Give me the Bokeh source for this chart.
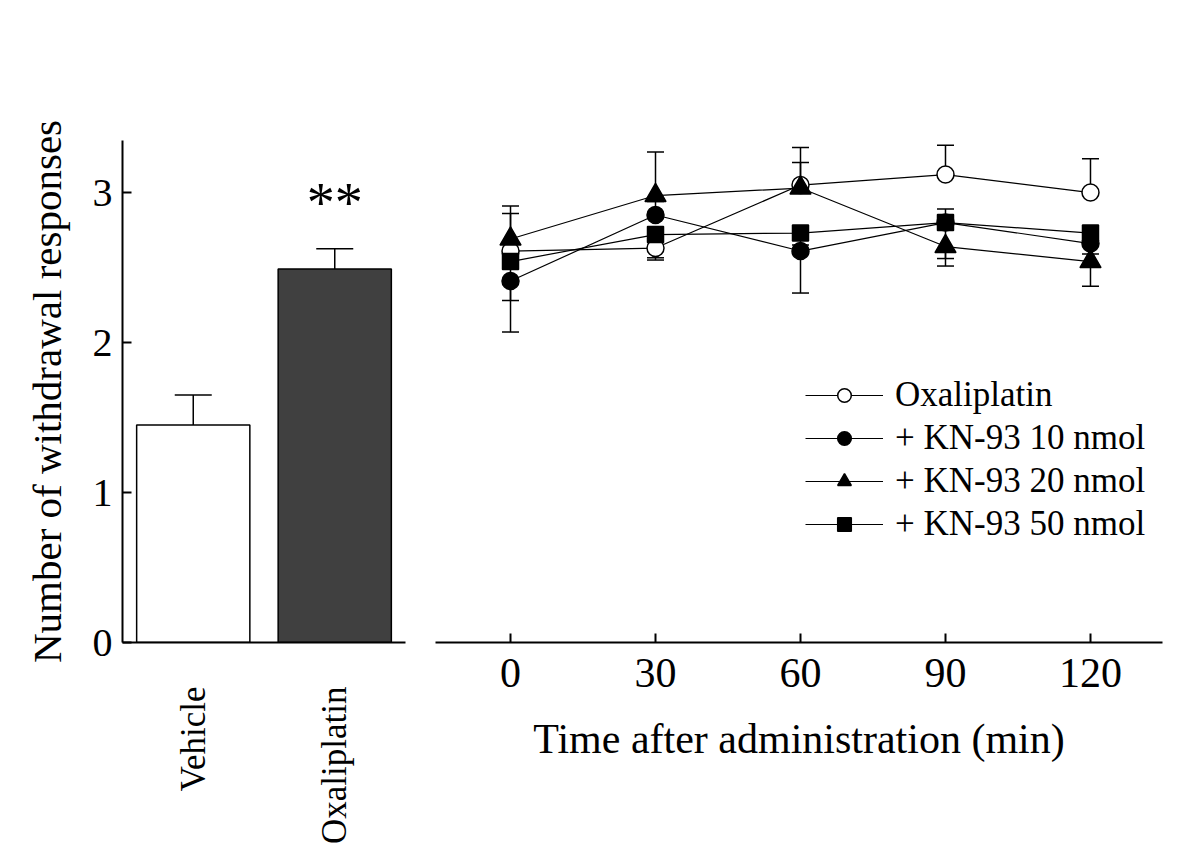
import math
from bokeh.plotting import figure
from bokeh.layouts import row
from bokeh.models import (Range1d, FactorRange, Whisker, TeeHead, ColumnDataSource,
                          Legend, LegendItem)
from bokeh.core.properties import value
from bokeh.embed import file_html
from bokeh.resources import INLINE

# ---------------- data ----------------
categories = ["Vehicle", "Oxaliplatin"]
bar_means = [1.45, 2.49]
bar_sems = [0.20, 0.135]
significance = "**"

times = [0, 30, 60, 90, 120]
series_names = ["Oxaliplatin", "+ KN-93 10 nmol", "+ KN-93 20 nmol", "+ KN-93 50 nmol"]
oxa_mean = [2.61, 2.63, 3.05, 3.12, 3.00]
oxa_sem = [0.25, 0.08, 0.25, 0.195, 0.225]
oxa_dir = [1, -1, 1, 1, 1]
kn10_mean = [2.41, 2.85, 2.61, 2.80, 2.66]
kn10_sem = [0.34, 0.09, 0.28, 0.24, 0.07]
kn10_dir = [-1, 1, -1, -1, -1]
kn20_mean = [2.69, 2.98, 3.03, 2.64, 2.54]
kn20_sem = [0.22, 0.29, 0.17, 0.13, 0.165]
kn20_dir = [1, 1, 1, -1, -1]
kn50_mean = [2.54, 2.72, 2.73, 2.80, 2.73]
kn50_sem = [0.26, 0.155, 0.08, 0.09, 0.05]
kn50_dir = [-1, -1, -1, 1, -1]

y_ticks = [0, 1, 2, 3]
x_ticks = [0, 30, 60, 90, 120]
y_label = "Number of withdrawal responses"
x_label = "Time after administration (min)"

FONT = "Liberation Serif"
yr = Range1d(0, 3.347)
H = 855
TOP = 140
BOTTOM = 213

# ---------------- left panel: bars ----------------
p1 = figure(x_range=FactorRange(*categories), y_range=yr, width=415, height=H,
            min_border_left=122, min_border_right=10, min_border_top=TOP,
            min_border_bottom=BOTTOM, output_backend="svg", toolbar_location=None)
p1.vbar(x=categories, top=bar_means, width=0.8, fill_color=["white", "#404040"],
        line_color="black", line_width=1.5)
bsrc = ColumnDataSource(dict(x=categories, lower=bar_means,
                             upper=[m + s for m, s in zip(bar_means, bar_sems)]))
p1.add_layout(Whisker(source=bsrc, base="x", upper="upper", lower="lower",
                      dimension="height", line_color="black", line_width=1.5,
                      upper_head=TeeHead(size=37, line_color="black", line_width=1.5),
                      lower_head=None))
p1.text(x=[categories[1]], y=[bar_means[1] + bar_sems[1]], text=[significance],
        text_font=value(FONT), text_font_size="56px", text_align="center",
        text_baseline="alphabetic", y_offset=-46, text_color="black")

# ---------------- right panel: time course ----------------
p2 = figure(x_range=Range1d(-15.52, 134.9), y_range=yr, width=767, height=H,
            min_border_left=20, min_border_right=20, min_border_top=TOP,
            min_border_bottom=BOTTOM, y_axis_location=None,
            output_backend="svg", toolbar_location=None)

series = [
    (oxa_mean, oxa_sem, oxa_dir, "circle", "white", 17),
    (kn10_mean, kn10_sem, kn10_dir, "circle", "black", 17),
    (kn20_mean, kn20_sem, kn20_dir, "triangle", "black", 21),
    (kn50_mean, kn50_sem, kn50_dir, "square", "black", 16),
]

line_rs = []
for mean, sem, d, mk, fc, sz in series:
    line_rs.append(p2.line(times, mean, line_color="black", line_width=1.2))

for mean, sem, d, mk, fc, sz in series:
    up = dict(x=[], lower=[], upper=[])
    dn = dict(x=[], lower=[], upper=[])
    for t, m, s, di in zip(times, mean, sem, d):
        if di > 0:
            up["x"].append(t); up["lower"].append(m); up["upper"].append(m + s)
        else:
            dn["x"].append(t); dn["lower"].append(m - s); dn["upper"].append(m)
    if up["x"]:
        p2.add_layout(Whisker(source=ColumnDataSource(up), base="x", upper="upper",
                              lower="lower", dimension="height", line_color="black",
                              line_width=1.5,
                              upper_head=TeeHead(size=17, line_color="black", line_width=1.5),
                              lower_head=None))
    if dn["x"]:
        p2.add_layout(Whisker(source=ColumnDataSource(dn), base="x", upper="upper",
                              lower="lower", dimension="height", line_color="black",
                              line_width=1.5,
                              lower_head=TeeHead(size=17, line_color="black", line_width=1.5),
                              upper_head=None))

marker_rs = []
for mean, sem, d, mk, fc, sz in series:
    marker_rs.append(p2.scatter(times, mean, marker=mk, size=sz, fill_color=fc,
                                line_color="black", line_width=1.5))

items = [LegendItem(label=n, renderers=[l, m])
         for n, l, m in zip(series_names, line_rs, marker_rs)]
legend = Legend(items=items, location=(370, 98), glyph_width=78, glyph_height=34,
                label_height=34, spacing=3, padding=0, margin=0, label_standoff=12,
                label_text_font=FONT, label_text_font_size="35px",
                label_text_color="black",
                border_line_color=None, background_fill_alpha=0)
p2.add_layout(legend)

# ---------------- styling ----------------
for p in (p1, p2):
    p.outline_line_color = None
    p.xgrid.visible = False
    p.ygrid.visible = False
    p.background_fill_color = "white"
    p.border_fill_color = "white"

p1.yaxis.ticker = y_ticks
p1.yaxis.axis_label = y_label
p1.yaxis.major_tick_in = 9
p1.yaxis.major_tick_out = 0
p1.yaxis.minor_tick_line_color = None
p1.yaxis.axis_line_width = 2
p1.yaxis.major_tick_line_width = 2
p1.yaxis.major_label_standoff = 10
p1.yaxis.axis_label_standoff = 20
p1.yaxis.major_label_text_font = FONT
p1.yaxis.major_label_text_font_size = "40px"
p1.yaxis.major_label_text_color = "black"
p1.yaxis.axis_label_text_font = FONT
p1.yaxis.axis_label_text_font_size = "41px"
p1.yaxis.axis_label_text_font_style = "normal"
p1.yaxis.axis_label_text_color = "black"

p1.xaxis.major_tick_in = 0
p1.xaxis.major_tick_out = 0
p1.xaxis.axis_line_width = 2
p1.xaxis.major_label_orientation = math.pi / 2
p1.xaxis.major_label_standoff = 44
p1.xaxis.major_label_text_font = FONT
p1.xaxis.major_label_text_font_size = "35px"
p1.xaxis.major_label_text_color = "black"

p2.xaxis.ticker = x_ticks
p2.xaxis.axis_label = x_label
p2.xaxis.major_tick_in = 9
p2.xaxis.major_tick_out = 0
p2.xaxis.minor_tick_line_color = None
p2.xaxis.axis_line_width = 2
p2.xaxis.major_tick_line_width = 2
p2.xaxis.major_label_standoff = 16
p2.xaxis.axis_label_standoff = 26
p2.xaxis.major_label_text_font = FONT
p2.xaxis.major_label_text_font_size = "42px"
p2.xaxis.major_label_text_color = "black"
p2.xaxis.axis_label_text_font = FONT
p2.xaxis.axis_label_text_font_size = "42px"
p2.xaxis.axis_label_text_font_style = "normal"
p2.xaxis.axis_label_text_color = "black"

layout = row(p1, p2)
open("out.html", "w").write(file_html(layout, INLINE))
